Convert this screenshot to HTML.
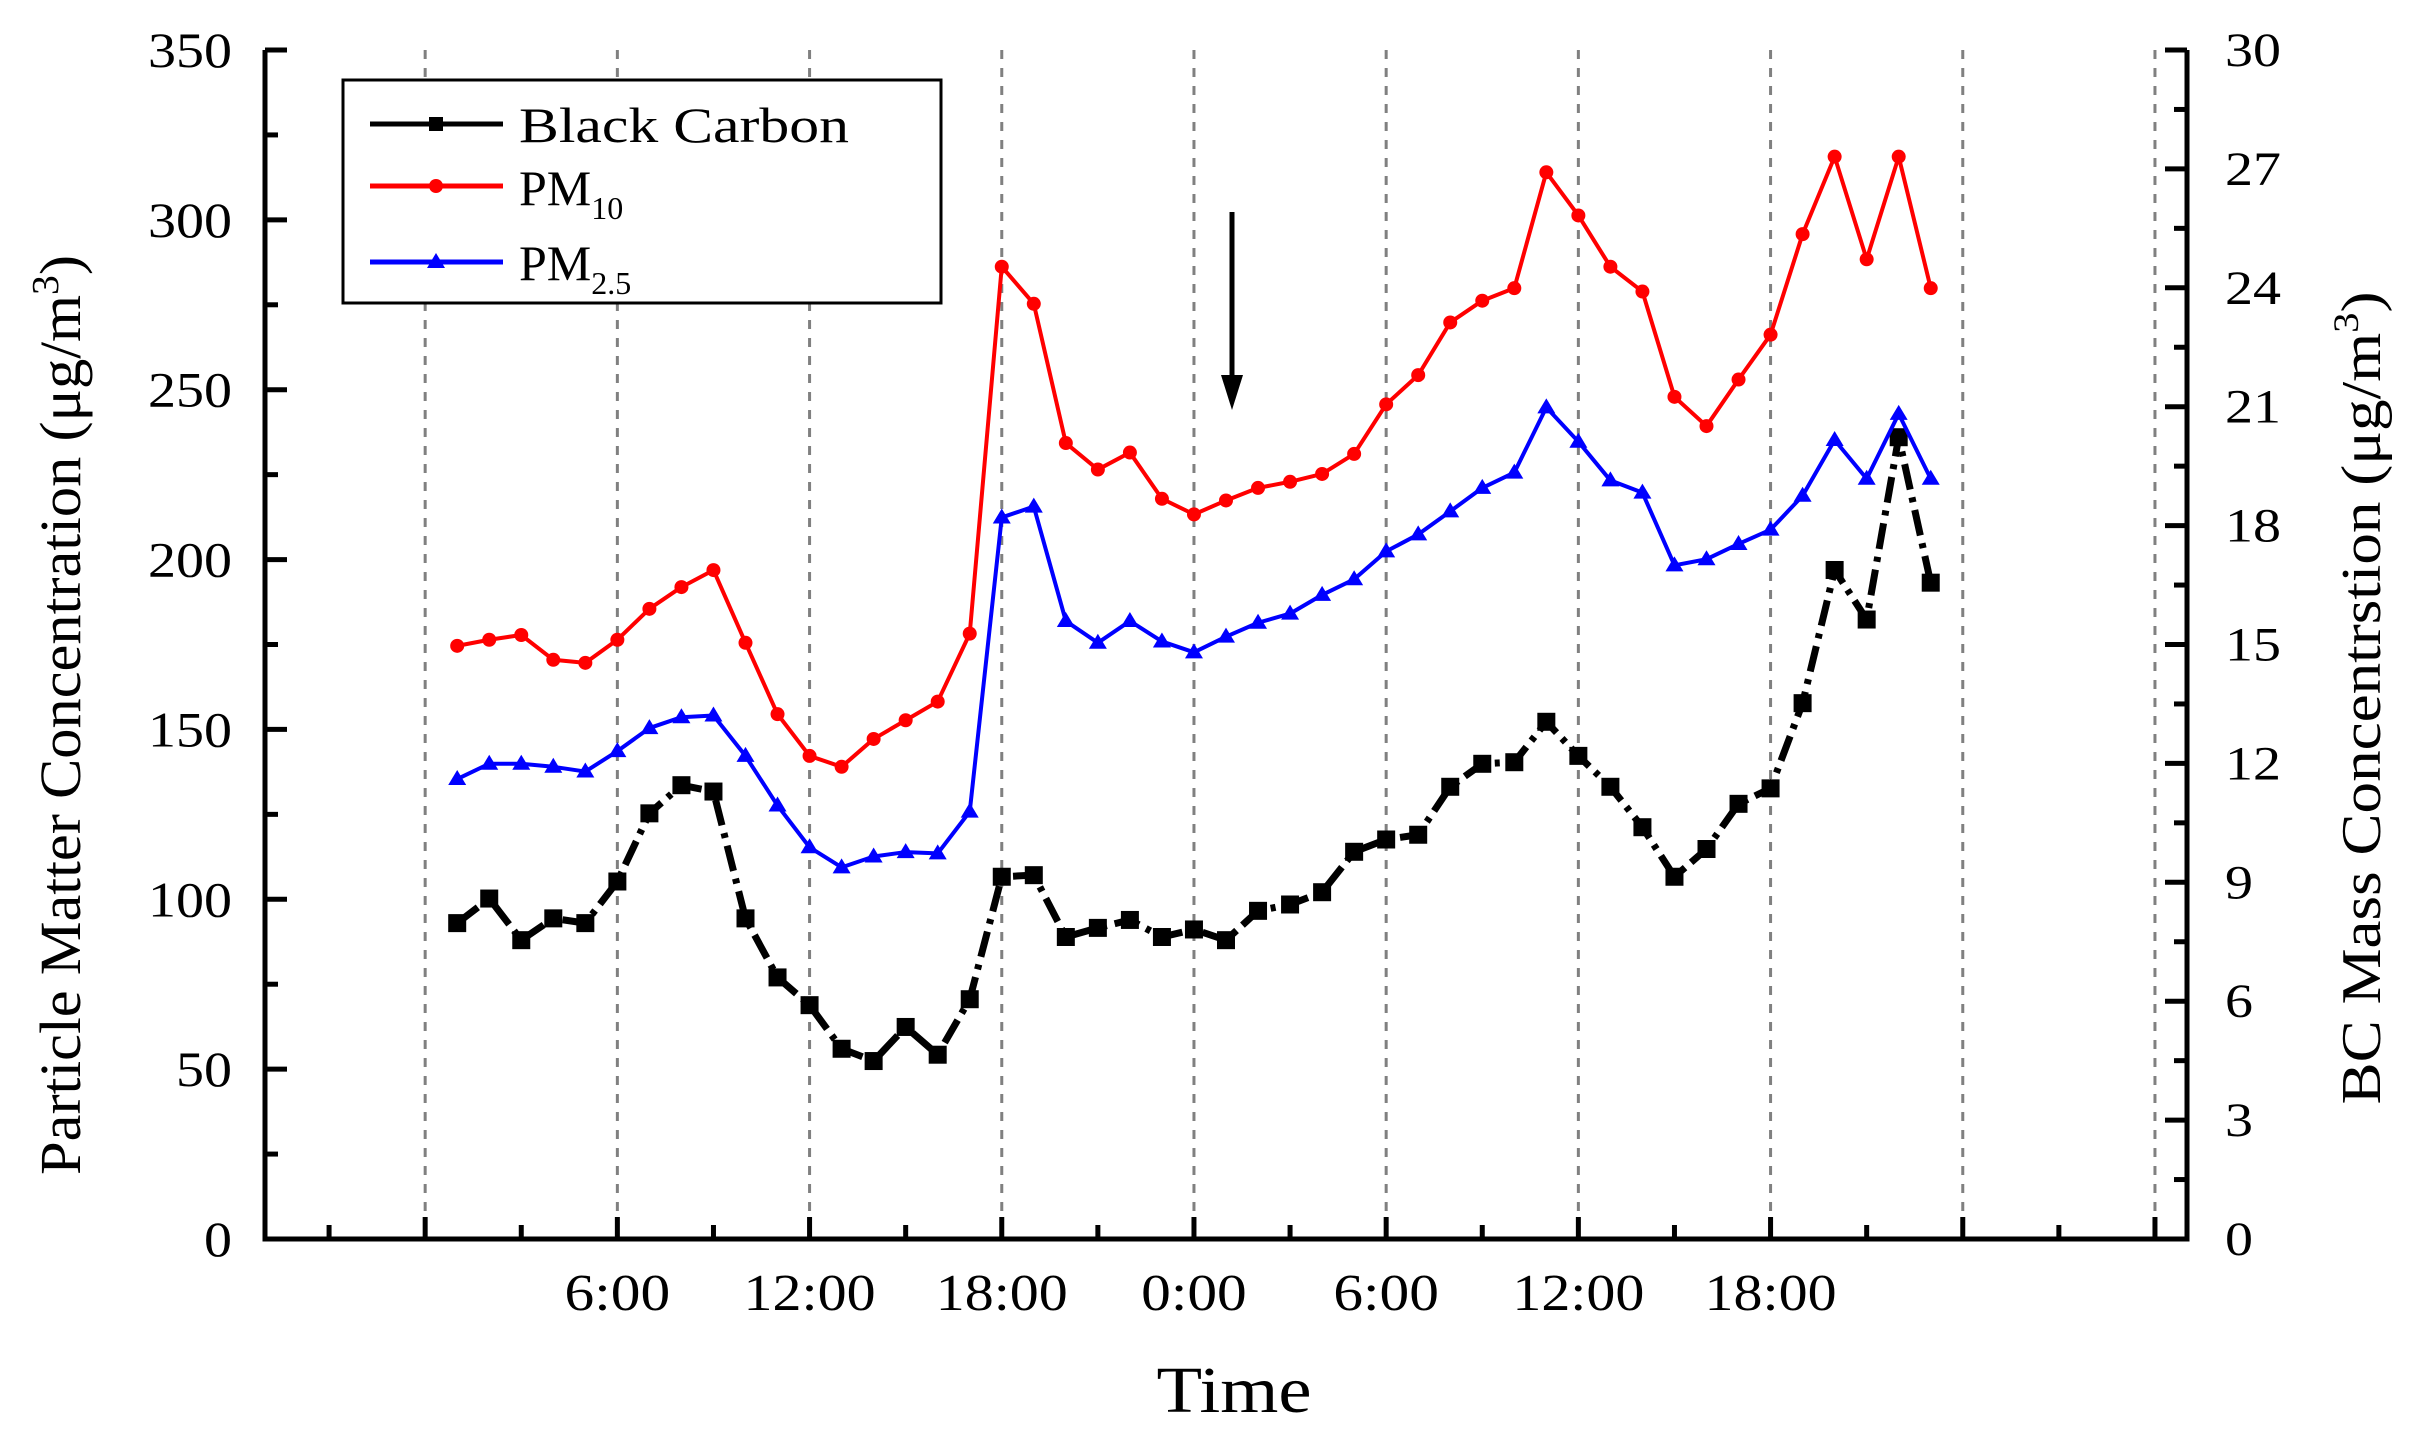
<!DOCTYPE html>
<html><head><meta charset="utf-8"><style>
html,body{margin:0;padding:0;background:#fff;}
svg{display:block;font-family:"Liberation Serif","DejaVu Serif",serif;}
</style></head><body>
<svg id="chart" width="2421" height="1436" viewBox="0 0 2421 1436" xmlns="http://www.w3.org/2000/svg">
<g id="grid"></g>
<g id="series"></g>
<g id="axes"></g>
<g>
<rect x="343" y="80" width="598" height="223" fill="#fff" stroke="#000" stroke-width="3"/>
<g>
<line x1="370" y1="124" x2="503" y2="124" stroke="#000" stroke-width="5"/><rect x="429" y="117" width="14" height="14" fill="#000"/>
<text x="519" y="142" font-size="50" textLength="330" lengthAdjust="spacingAndGlyphs">Black Carbon</text></g>
<g>
<line x1="370" y1="186" x2="503" y2="186" stroke="#f00" stroke-width="5"/><circle cx="436" cy="186" r="7" fill="#f00"/>
<text x="519" y="205" font-size="50">PM<tspan font-size="32" dy="14">10</tspan></text></g>
<g>
<line x1="370" y1="262" x2="503" y2="262" stroke="#00f" stroke-width="5"/><polygon points="436,253 445,268 427,268" fill="#00f"/>
<text x="519" y="280" font-size="50">PM<tspan font-size="32" dy="14">2.5</tspan></text></g>
</g>
<g>
<line x1="1232" y1="212" x2="1232" y2="380" stroke="#000" stroke-width="5"/>
<polygon points="1221,375 1243,375 1232,410" fill="#000"/></g>
<text x="1234" y="1412" font-size="66" text-anchor="middle" textLength="155" lengthAdjust="spacingAndGlyphs">Time</text>
<text transform="translate(80,715) rotate(-90)" font-size="58" text-anchor="middle" textLength="920" lengthAdjust="spacingAndGlyphs">Particle Matter Concentration (μg/m<tspan font-size="38" dy="-22">3</tspan><tspan dy="22">)</tspan></text>
<text transform="translate(2380,698) rotate(-90)" font-size="56" text-anchor="middle" textLength="813" lengthAdjust="spacingAndGlyphs">BC Mass Concentrstion (μg/m<tspan font-size="36" dy="-22">3</tspan><tspan dy="22">)</tspan></text>
</svg>
<script>
const hours = [1,2,3,4,5,6,7,8,9,10,11,12,13,14,15,16,17,18,19,20,21,22,23,24,25,26,27,28,29,30,31,32,33,34,35,36,37,38,39,40,41,42,43,44,45,46,47];
const pm10 = [174.6,176.4,177.8,170.5,169.6,176.4,185.5,191.9,196.9,175.5,154.5,142.2,139,147.2,152.7,158.2,178.2,286.2,275.3,234.3,226.5,231.5,217.9,213.3,217.4,221.1,222.9,225.2,231.1,245.7,254.3,269.8,276.2,279.9,314,301.3,286.2,278.9,247.9,239.3,253,266.2,295.8,318.6,288.4,318.6,279.9];
const pm25 = [135.4,139.9,139.9,139,137.6,143.6,150.4,153.6,154.1,142.2,127.6,115.3,109.4,112.6,113.9,113.5,125.8,212.4,215.6,181.9,175.5,181.9,175.9,172.7,177.3,181.4,184.1,189.6,194.2,202.4,207.4,214.2,221.1,225.6,244.8,234.7,223.3,219.7,198.3,200.1,204.6,208.8,218.8,235.2,223.8,242.9,223.8];
const bc = [7.97,8.59,7.54,8.09,7.97,9.02,10.74,11.45,11.29,8.09,6.6,5.9,4.8,4.49,5.35,4.65,6.05,9.14,9.18,7.62,7.85,8.05,7.62,7.81,7.54,8.28,8.44,8.75,9.77,10.08,10.2,11.41,11.99,12.03,13.05,12.19,11.41,10.39,9.14,9.84,10.98,11.37,13.52,16.88,15.63,20.23,16.56];
const leftTicks = [0,50,100,150,200,250,300,350];
const rightTicks = [0,3,6,9,12,15,18,21,24,27,30];
const xGridHours = [0,6,12,18,24,30,36,42,48,54];
const xTickLabels = ["","6:00","12:00","18:00","0:00","6:00","12:00","18:00","",""];

const NS="http://www.w3.org/2000/svg";
const X0=265,X1=2187,Y0=1239,Y1=50,HMIN=-5,HMAX=55;
const xs=h=>X0+(h-HMIN)/(HMAX-HMIN)*(X1-X0);
const yl=v=>Y0-v/350*(Y0-Y1);
const yr=v=>Y0-v/30*(Y0-Y1);
function mk(tag,attrs,parent){const e=document.createElementNS(NS,tag);for(const k in attrs)e.setAttribute(k,attrs[k]);parent.appendChild(e);return e;}
const grid=document.getElementById('grid'),ser=document.getElementById('series'),ax=document.getElementById('axes');
xGridHours.forEach((h,i)=>{
  const l=mk('line',{x1:xs(h),x2:xs(h),y1:Y1,y2:Y0,stroke:'#808080','stroke-width':3,'stroke-dasharray':'9 9'},grid);
  
  
  const t=mk('line',{x1:xs(h),x2:xs(h),y1:Y0,y2:Y0-22,stroke:'#000','stroke-width':5},ax);
  
  
  if(xTickLabels[i]){const s=xTickLabels[i];const tx=mk('text',{x:xs(h),y:1310,'font-size':52,'text-anchor':'middle',textLength:s.length*26.4,lengthAdjust:'spacingAndGlyphs'},ax);tx.textContent=s;
  
  }
});
for(let h=-3;h<55;h+=6){const t=mk('line',{x1:xs(h),x2:xs(h),y1:Y0,y2:Y0-14,stroke:'#000','stroke-width':5},ax);
  
  }
leftTicks.forEach(v=>{
  const t=mk('line',{x1:X0,x2:X0+22,y1:yl(v),y2:yl(v),stroke:'#000','stroke-width':5},ax);
  
  
  if(v<350){const m=mk('line',{x1:X0,x2:X0+13,y1:yl(v+25),y2:yl(v+25),stroke:'#000','stroke-width':5},ax);
  
  }
  const s=String(v);
  const tx=mk('text',{x:232,y:yl(v)+17,'font-size':50,'text-anchor':'end',textLength:s.length*28,lengthAdjust:'spacingAndGlyphs'},ax);tx.textContent=s;
  
  
});
rightTicks.forEach(v=>{
  const t=mk('line',{x1:X1,x2:X1-22,y1:yr(v),y2:yr(v),stroke:'#000','stroke-width':5},ax);
  
  
  if(v<30){const m=mk('line',{x1:X1,x2:X1-13,y1:yr(v+1.5),y2:yr(v+1.5),stroke:'#000','stroke-width':5},ax);
  
  }
  const s=String(v);
  const tx=mk('text',{x:2225,y:yr(v)+16,'font-size':48,textLength:s.length*28,lengthAdjust:'spacingAndGlyphs'},ax);tx.textContent=s;
  
  
});
const frame=mk('path',{d:`M${X0},${Y1} V${Y0} H${X1} V${Y1}`,fill:'none',stroke:'#000','stroke-width':5},ax);



function drawSeries(vals,yf,color,w,dash,name,marker){
  const g=mk('g',{},ser);
  
  
  const pts=vals.map((v,i)=>xs(hours[i])+','+yf(v)).join(' ');
  const pl=mk('polyline',{points:pts,fill:'none',stroke:color,'stroke-width':w,'stroke-linejoin':'round'},g);
  if(dash)pl.setAttribute('stroke-dasharray',dash);
  
  
  vals.forEach((v,i)=>{
    const x=xs(hours[i]),y=yf(v);let m;
    if(marker==='sq')m=mk('rect',{x:x-9,y:y-9,width:18,height:18,fill:color},g);
    else if(marker==='c')m=mk('circle',{cx:x,cy:y,r:7,fill:color},g);
    else m=mk('polygon',{points:`${x},${y-9} ${x+9},${y+6} ${x-9},${y+6}`,fill:color},g);
    
    
  });
}
drawSeries(bc,yr,'#000',7,'26 8 5 8','black-carbon-series','sq');
drawSeries(pm10,yl,'#f00',4,null,'pm10-series','c');
drawSeries(pm25,yl,'#00f',4,null,'pm25-series','t');
</script>
</body></html>
